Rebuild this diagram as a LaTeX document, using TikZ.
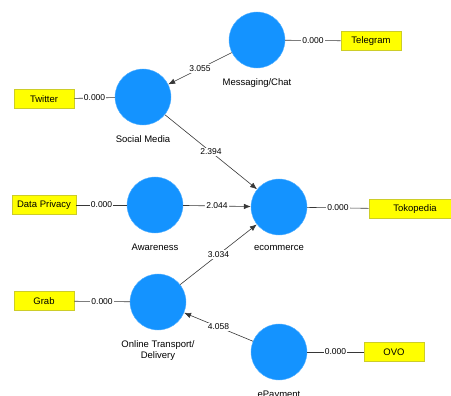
\documentclass[tikz,border=0pt]{standalone}
\usepackage{fontspec}
\setmainfont{Liberation Sans}
\usetikzlibrary{shapes, arrows, arrows.meta}
\definecolor{lvblue}{RGB}{20,147,255}
\definecolor{mvyellow}{RGB}{255,255,0}
\definecolor{mvborder}{RGB}{205,205,40}
\definecolor{pathgray}{RGB}{55,55,55}

\tikzset{
    latent/.style={circle, fill=lvblue, draw=lvblue!70, line width=0.4pt, minimum size=56pt, inner sep=0pt,
        label={[yshift=-7pt, font=\fontsize{9.5}{11}\selectfont, align=center]below:#1}},
    indicator/.style={rectangle, fill=mvyellow, draw=mvborder, line width=0.6pt, minimum width=60pt, minimum height=19pt,
        font=\fontsize{9.5}{10}\selectfont},
    path/.style={draw=pathgray, line width=0.6pt},
    coef/.style={midway, fill=white, inner sep=1pt, font=\fontsize{8.5}{9}\selectfont},
    tip/.style={-{Latex[length=7pt, width=5.5pt]}}
}

\begin{document}
\begin{tikzpicture}[x=1pt, y=-1pt]
        \useasboundingbox (0,0) rectangle (451,396);

        % latent variables
        \node[latent={Messaging/Chat}] (msg) at (257,40) {};
        \node[latent={Social Media}] (social) at (143,97) {};
        \node[latent={Awareness}] (aware) at (155,205) {};
        \node[latent={ecommerce}] (ecom) at (279,207) {};
        \node[latent={Online Transport/\\Delivery}] (transport) at (158,302) {};
        \node[latent={ePayment}] (epay) at (279,352) {};

        % indicators
        \node[indicator] (tele) at (371,41) {Telegram};
        \node[indicator] (twit) at (44,99) {Twitter};
        \node[indicator, minimum width=64pt] (priv) at (44,205) {Data Privacy};
        \node[indicator, minimum width=92pt] (toko) at (415,209) {Tokopedia};
        \node[indicator] (grab) at (44,301) {Grab};
        \node[indicator] (ovo) at (394,352) {OVO};

        % inner model
        \draw[path, tip] (msg) -- (social) node[coef]{3.055};
        \draw[path, tip] (social) -- (ecom) node[coef]{2.394};
        \draw[path, tip] (aware) -- (ecom) node[coef]{2.044};
        \draw[path, tip] (transport) -- (ecom) node[coef]{3.034};
        \draw[path, tip] (epay) -- (transport) node[coef]{4.058};

        % outer model
        \draw[path] (msg) -- (tele) node[coef]{0.000};
        \draw[path] (social) -- (twit) node[coef]{0.000};
        \draw[path] (aware) -- (priv) node[coef]{0.000};
        \draw[path] (ecom) -- (toko) node[coef]{0.000};
        \draw[path] (transport) -- (grab) node[coef]{0.000};
        \draw[path] (epay) -- (ovo) node[coef]{0.000};

    \end{tikzpicture}
\end{document}
